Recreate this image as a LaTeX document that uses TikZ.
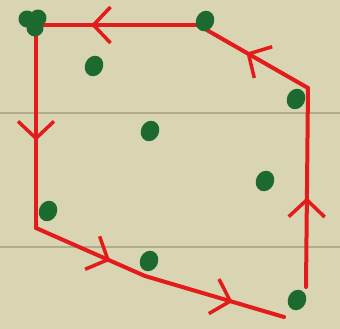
\documentclass[tikz,border=0pt]{standalone}
\usepackage{tikz}
\usetikzlibrary{arrows.meta,decorations.markings,shapes.geometric}
\definecolor{paper}{HTML}{D9D4B1}
\definecolor{rule}{HTML}{B2AB8C}
\definecolor{hullred}{HTML}{E31B1B}
\definecolor{dotgreen}{HTML}{1C6A30}
\tikzset{
  hull/.style={draw=hullred,line width=4pt,line cap=round,line join=round},
  midarrow/.style={postaction={decorate,decoration={markings,
    mark=at position #1 with {\arrow{Straight Barb[length=17pt,width=36pt,line width=3.5pt]}}}}},
  dot/.style={ellipse,fill=dotgreen,inner sep=0pt,minimum width=18pt,minimum height=21pt,rotate=-25}
}
\begin{document}
\begin{tikzpicture}[x=1pt,y=-1pt]
        \useasboundingbox (0,0) rectangle (340,329);
        \fill[paper] (0,0) rectangle (340,329);
        \draw[rule,line width=2pt] (0,113) -- (340,113);
        \draw[rule,line width=2pt] (0,247) -- (340,247);
        % hull corners
        \coordinate (tl) at (36,25);
        \coordinate (tr) at (198,25);
        \coordinate (rt) at (308,88);
        \coordinate (rb) at (306,287);
        \coordinate (br) at (284,317);
        \coordinate (bm) at (145,276);
        \coordinate (bl) at (36,228);
        % hull edges
        \draw[hull,midarrow=0.66] (tr) -- (tl);
        \draw[hull,midarrow=0.56] (rt) -- (tr);
        \draw[hull,midarrow=0.45] (rb) -- (rt);
        \draw[hull,midarrow=0.57] (tl) -- (bl);
        \draw[hull,midarrow=0.68] (bl) -- (bm);
        \draw[hull,midarrow=0.63] (bm) -- (br);
        % points
        \foreach \n/\x/\y in {a/27/19,b/38/18,c/35/28}{\node[dot,minimum width=17pt,minimum height=17pt] (p\n) at (\x,\y) {};}
        \foreach \n/\x/\y in {d/205/21,e/94/66,f/150/131,g/296/99,h/265/181,i/48/211,j/149/261,k/297/300}{\node[dot] (p\n) at (\x,\y) {};}
      \end{tikzpicture}
\end{document}
